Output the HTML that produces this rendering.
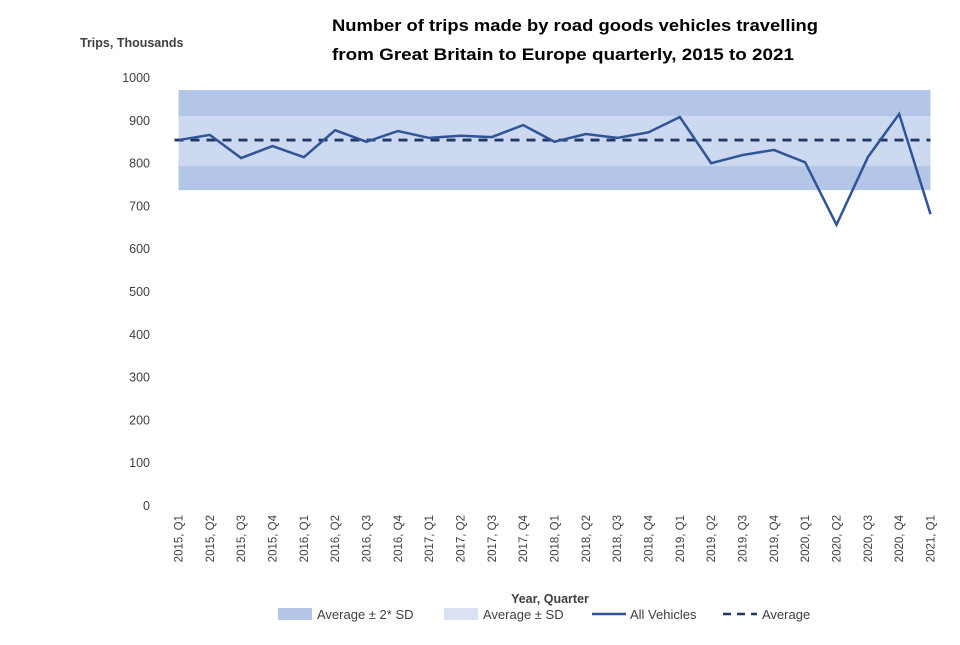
<!DOCTYPE html>
<html><head><meta charset="utf-8"><style>
body{margin:0;background:#fff;font-family:"Liberation Sans",sans-serif}
svg text{font-family:"Liberation Sans",sans-serif}
</style></head><body>
<svg id="chart" width="960" height="640" viewBox="0 0 960 640">
<rect width="960" height="640" fill="#fff"/>
<text x="332" y="31" font-size="16.5" font-weight="bold" fill="#000" textLength="486" lengthAdjust="spacingAndGlyphs">Number of trips made by road goods vehicles travelling</text>
<text x="332" y="60" font-size="16.5" font-weight="bold" fill="#000" textLength="462" lengthAdjust="spacingAndGlyphs">from Great Britain to Europe quarterly,  2015 to 2021</text>
<text x="80" y="47" font-size="12.5" font-weight="bold" fill="#404040">Trips, Thousands</text>
<text x="550" y="603" font-size="12.5" font-weight="bold" fill="#404040" text-anchor="middle">Year, Quarter</text>
<g id="bands"></g><g id="yticks"></g><g id="xticks"></g><g id="series"></g>
<g>
<rect x="278" y="608" width="34" height="12" fill="#b4c6e7"/>
<text x="317" y="619" font-size="13" fill="#404040">Average ± 2* SD</text>
<rect x="444" y="608" width="34" height="12" fill="#d9e1f2"/>
<text x="483" y="619" font-size="13" fill="#404040">Average ± SD</text>
<line x1="592" y1="614" x2="626" y2="614" stroke="#2f5597" stroke-width="2.5"/>
<text x="630" y="619" font-size="13" fill="#404040">All Vehicles</text>
<line x1="723" y1="614" x2="757" y2="614" stroke="#1f3864" stroke-width="2.5" stroke-dasharray="8,6"/>
<text x="762" y="619" font-size="13" fill="#404040">Average</text>
</g>
</svg>
<script>
const categories=["2015, Q1","2015, Q2","2015, Q3","2015, Q4","2016, Q1","2016, Q2","2016, Q3","2016, Q4","2017, Q1","2017, Q2","2017, Q3","2017, Q4","2018, Q1","2018, Q2","2018, Q3","2018, Q4","2019, Q1","2019, Q2","2019, Q3","2019, Q4","2020, Q1","2020, Q2","2020, Q3","2020, Q4","2021, Q1"];
const allVehicles=[855,867,813,841,815,878,851,876,860,865,862,890,851,869,860,873,909,801,820,832,803,657,815,916,682];
const average=855;
const sd1=[794,911];
const sd2=[738,972];
const yTicks=[0,100,200,300,400,500,600,700,800,900,1000];
const NS="http://www.w3.org/2000/svg";
const x0=178.5,x1=930.5,yBase=506,yTop=78;
function xs(i){return x0+(x1-x0)*i/(categories.length-1);}
function ys(v){return yBase-(yBase-yTop)*v/1000;}
function mk(t,a,p){const e=document.createElementNS(NS,t);for(const k in a)e.setAttribute(k,a[k]);p.appendChild(e);return e;}
const bands=document.getElementById('bands');
let b=mk('rect',{x:xs(0),y:ys(sd2[1]),width:xs(categories.length-1)-xs(0),height:ys(sd2[0])-ys(sd2[1]),fill:'#b4c6e7'},bands);


b=mk('rect',{x:xs(0),y:ys(sd1[1]),width:xs(categories.length-1)-xs(0),height:ys(sd1[0])-ys(sd1[1]),fill:'#cdd9f0'},bands);


const yt=document.getElementById('yticks');
yTicks.forEach(v=>{const t=mk('text',{x:150,y:ys(v)+4,'font-size':12.5,fill:'#404040','text-anchor':'end'},yt);t.textContent=v;

});
const xt=document.getElementById('xticks');
categories.forEach((c,i)=>{const t=mk('text',{transform:`translate(${xs(i)+4},515) rotate(-90)`,'font-size':11.5,fill:'#404040','text-anchor':'end'},xt);t.textContent=c;

});
const s=document.getElementById('series');
const l=mk('line',{x1:xs(0)-4,x2:xs(categories.length-1),y1:ys(average),y2:ys(average),stroke:'#1f3864','stroke-width':2.8,'stroke-dasharray':'9,7'},s);


const p=mk('polyline',{points:allVehicles.map((v,i)=>xs(i)+','+ys(v)).join(' '),fill:'none',stroke:'#2f5597','stroke-width':2.5,'stroke-linejoin':'miter'},s);


</script>
</body></html>
